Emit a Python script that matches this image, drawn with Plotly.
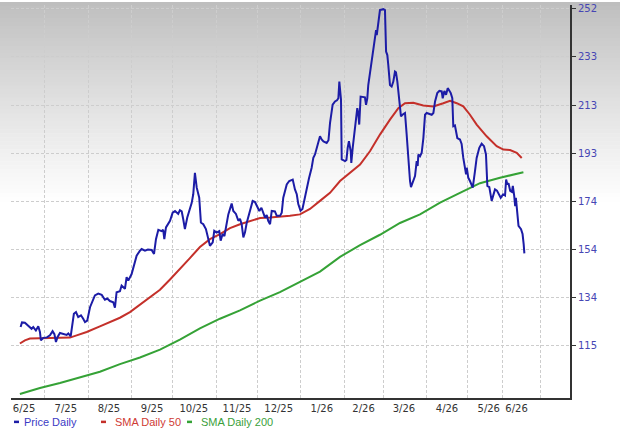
import numpy as np
import pandas as pd
import plotly.graph_objects as go

# ---------------- data ----------------
ORIGIN = pd.Timestamp("2025-07-01")  # day offsets below are counted from this date

price_days = [-17.5, -16.5, -14.4, -12.0, -9.6, -8.4, -6.5, -4.8, -3.6, -2.9, -1.2, 1.4, 3.6, 5.5, 6.8,
              7.9, 9.1, 10.8, 13.2, 15.6, 16.8, 18.5, 20.8, 22.3, 23.9, 25.9, 27.5, 28.8, 30.4, 32.4,
              35.9, 38.3, 40.8, 43.1, 44.8, 46.7, 49.1, 50.3, 51.5, 53.9, 55.1, 57.5, 58.7, 59.9, 62.3,
              63.5, 65.9, 68.3, 69.5, 71.9, 74.0, 76.7, 78.4, 79.8, 81.5, 83.9, 85.0, 85.8, 87.0, 89.9,
              91.8, 93.5, 95.8, 97.0, 98.3, 99.4, 100.6, 102.3, 104.2, 105.5, 106.6, 107.8, 109.1, 110.9,
              112.1, 113.8, 115.7, 117.4, 118.6, 120.6, 121.7, 123.4, 125.3, 126.3, 127.7, 129.0, 130.6,
              131.8, 134.2, 135.4, 137.3, 139.0, 140.2, 141.4, 142.6, 143.8, 145.0, 147.4, 149.3, 151.0,
              152.2, 154.1, 155.6, 156.9, 158.2, 159.4, 160.5, 161.8, 163.0, 165.3, 166.6, 169.0, 170.2,
              171.3, 173.8, 175.6, 178.1, 179.7, 181.0, 182.1, 183.7, 185.1, 186.6, 188.1, 189.8, 191.7,
              192.9, 194.1, 196.5, 197.7, 198.9, 200.2, 202.5, 203.8, 204.9, 205.6, 206.8, 208.5, 209.9,
              210.9, 211.6, 212.8, 213.3, 215.7, 216.7, 217.6, 218.5, 219.8, 220.2, 221.2, 222.9, 223.6,
              224.5, 225.2, 225.9, 226.9, 228.8, 230.0, 230.8, 231.7, 232.4, 234.1, 236.0, 237.2, 238.0,
              238.5, 239.2, 240.3, 240.8, 243.2, 244.4, 245.2, 246.1, 246.8, 248.0, 249.2, 250.4, 251.6,
              252.3, 253.3, 254.5, 255.2, 255.9, 257.2, 258.8, 260.0, 261.2, 262.4, 263.1, 264.8, 266.0,
              267.2, 267.9, 268.4, 269.6, 270.8, 272.0, 273.2, 274.4, 278.0, 279.2, 280.4, 282.0, 283.5,
              285.2, 285.9, 287.1, 288.3, 289.5, 290.4, 291.7, 292.8, 293.5, 294.7, 295.4, 296.4, 298.3,
              299.5, 300.7, 301.9, 302.7, 303.2, 304.3, 305.5, 307.5, 309.1, 310.3, 312.2, 313.9, 315.6,
              317.0, 318.0, 319.4, 321.1, 322.3, 323.5, 324.9, 326.6, 327.6, 329.3, 330.7, 331.5, 332.4,
              333.2, 334.4, 335.6, 336.3, 337.3, 338.0, 338.5, 339.3, 340.4, 342.2, 343.3, 344.1, 344.6]

price_values = [122.4, 124.3, 124.2, 123.0, 121.7, 122.4, 121.0, 122.7, 120.4, 117.0, 118.0, 118.2, 119.0, 120.7, 119.5,
                116.3, 118.4, 120.0, 119.5, 119.2, 119.8, 118.6, 127.8, 128.5, 126.5, 127.2, 125.8, 124.4, 125.0, 130.5,
                135.3, 136.0, 135.5, 133.5, 134.0, 133.0, 132.5, 130.3, 136.6, 137.0, 139.3, 138.0, 142.7, 141.3, 144.0,
                146.7, 151.5, 153.5, 154.2, 153.5, 154.0, 153.8, 152.2, 158.2, 162.0, 161.5, 162.0, 158.2, 163.0, 165.7,
                169.0, 169.7, 168.5, 170.0, 169.5, 166.3, 162.3, 167.0, 171.0, 173.0, 176.5, 185.2, 179.2, 175.1,
                165.0, 164.3, 162.3, 158.2, 155.5, 156.9, 161.6, 160.9, 161.5, 157.6, 160.3, 159.5, 165.7,
                168.3, 172.7, 169.7, 168.5, 165.7, 166.5, 164.3, 158.9, 161.0, 164.8, 169.7, 173.8, 173.3,
                171.7, 169.7, 171.0, 169.2, 167.0, 168.0, 165.7, 164.3, 169.7, 169.5, 167.7, 167.7, 169.0,
                175.1, 180.5, 181.9, 182.5, 178.5, 176.5, 172.5, 169.8, 170.5, 175.0, 179.2, 183.0, 187.3,
                191.3, 192.7, 198.1, 200.1, 198.8, 198.0, 197.4, 198.5, 205.5, 208.2, 213.0, 214.3, 214.8,
                215.6, 222.4, 215.0, 190.7, 190.0, 190.5, 195.4, 198.1, 194.0, 189.3, 195.4, 203.5, 208.9,
                211.6, 209.5, 204.9, 216.3, 216.3, 216.0, 212.9, 215.6, 221.0, 227.8, 234.6, 241.3, 243.4,
                241.3, 244.7, 249.4, 251.5, 251.9, 251.5, 234.6, 233.2, 229.1, 221.0, 220.4, 222.4, 226.5,
                226.2, 222.4, 214.3, 210.2, 208.2, 209.0, 209.6, 200.8, 190.0, 181.9, 179.4, 181.9, 183.9,
                190.0, 188.0, 192.7, 192.0, 193.4, 199.4, 208.9, 209.6, 208.9, 209.6, 214.3, 217.7, 218.6,
                218.4, 215.6, 218.6, 217.0, 219.7, 219.0, 217.7, 215.6, 204.2, 204.5, 202.8, 199.4, 198.8,
                197.0, 191.3, 187.3, 184.6, 187.3, 183.2, 181.9, 179.2, 185.9, 191.3, 195.4, 197.1, 196.1,
                192.7, 179.9, 179.4, 173.8, 176.5, 178.5, 178.0, 176.5, 175.1, 176.5, 176.0, 182.5, 180.5,
                181.0, 177.9, 177.5, 179.9, 175.8, 171.7, 175.0, 171.0, 163.6, 162.3, 160.3, 156.2, 152.4]

sma50_days = [-18.0, -14.4, -10.8, -3.6, 3.6, 13.2, 18.0, 22.8, 30.0, 39.5, 46.7, 53.9, 61.1, 68.3, 75.5,
              82.7, 89.9, 97.0, 104.2, 111.4, 118.6, 125.8, 133.0, 140.2, 147.4, 154.6, 161.8, 168.9,
              176.1, 183.3, 190.5, 197.7, 204.9, 212.1, 219.3, 226.5, 233.6, 240.8, 248.0, 254.0, 258.8,
              264.8, 271.9, 279.2, 286.3, 291.2, 296.0, 300.7, 305.5, 310.3, 317.5, 324.7, 329.5, 334.3,
              339.1, 342.7]
sma50_values = [115.7, 117.0, 117.7, 117.8, 117.8, 117.9, 118.1, 119.0, 120.4, 122.7, 124.5, 126.2, 128.5,
                131.5, 134.7, 137.6, 141.8, 146.0, 150.5, 155.0, 158.2, 160.3, 162.7, 164.3, 165.7, 166.8,
                167.0, 167.3, 167.7, 168.3, 170.5, 173.8, 177.1, 181.9, 185.2, 188.6, 194.0, 200.8, 206.9,
                211.6, 213.6, 213.8, 212.7, 212.3, 213.6, 214.6, 213.6, 212.3, 208.9, 204.9, 200.1, 196.1,
                194.7, 194.5, 193.4, 191.3]

sma200_days = [-18.0, -3.6, 10.8, 25.2, 39.5, 53.9, 68.3, 82.7, 97.0, 111.4, 125.8, 140.2, 154.6, 168.9,
               183.3, 197.7, 212.1, 226.5, 240.8, 255.2, 269.6, 284.0, 298.3, 312.7, 327.1, 341.5, 343.9]
sma200_values = [95.1, 97.6, 99.6, 101.8, 104.2, 107.3, 110.0, 113.2, 117.3, 121.9, 125.8, 129.2, 133.2,
                 136.6, 140.7, 145.0, 151.0, 155.8, 160.0, 164.8, 168.3, 173.1, 177.1, 181.0, 183.2, 185.3,
                 185.5]

x_tick_labels = ["6/25", "7/25", "8/25", "9/25", "10/25", "11/25", "12/25",
                 "1/26", "2/26", "3/26", "4/26", "5/26", "6/26"]
x_tick_dates = ["2025-06-16", "2025-07-16", "2025-08-16", "2025-09-16", "2025-10-16", "2025-11-16",
                "2025-12-16", "2026-01-16", "2026-02-15", "2026-03-16", "2026-04-16", "2026-05-16",
                "2026-06-05"]
x_grid_dates = ["2025-07-01", "2025-08-01", "2025-09-01", "2025-10-01", "2025-11-01", "2025-12-01",
                "2026-01-01", "2026-02-01", "2026-03-01", "2026-04-01", "2026-05-01", "2026-05-26",
                "2026-06-22"]
y_tick_labels = ["115", "134", "154", "174", "193", "213", "233", "252"]

series_names = ["Price Daily", "SMA Daily 50", "SMA Daily 200"]

# ---------------- styling ----------------
BLUE = "#1c1ca6"
RED = "#c4302a"
GREEN = "#35a236"
W, H = 620, 432
L, R, T, B = 11, 50, 3, 34
PW, PH = W - L - R, H - T - B


def to_dates(days):
    return ORIGIN + pd.to_timedelta(np.asarray(days, dtype=float), unit="D")


def px(x):
    return (x - L) / PW


def py(y):
    return (H - B - y) / PH


fig = go.Figure()
fig.add_trace(go.Scatter(x=to_dates(sma200_days), y=sma200_values, mode="lines", name=series_names[2],
                         line=dict(color=GREEN, width=2), showlegend=False))
fig.add_trace(go.Scatter(x=to_dates(sma50_days), y=sma50_values, mode="lines", name=series_names[1],
                         line=dict(color=RED, width=2), showlegend=False))
fig.add_trace(go.Scatter(x=to_dates(price_days), y=price_values, mode="lines", name=series_names[0],
                         line=dict(color=BLUE, width=2), showlegend=False))

# background gradient (grey at top fading to white)
shapes = []
n_bands = 50
band_h = 200 / n_bands
for i in range(n_bands):
    t = i / n_bands
    c = int(round(190 + 65 * t ** 0.9))
    shapes.append(dict(type="rect", xref="paper", yref="paper", x0=px(0), x1=px(W),
                       y0=py(i * band_h + band_h + 0.5), y1=py(i * band_h),
                       fillcolor=f"rgb({c},{c},{c})", line=dict(width=0), layer="below"))

# legend (drawn as text with short colour dashes)
legend_items = [(series_names[0], BLUE, "#3b3bc4", 14, 22),
                (series_names[1], RED, "#cf3b35", 101, 113),
                (series_names[2], GREEN, "#3b9f3b", 187, 199)]
annotations = []
for name, lc, tc, dx, tx in legend_items:
    shapes.append(dict(type="line", xref="paper", yref="paper", x0=px(dx), x1=px(dx + 5),
                       y0=py(422), y1=py(422), line=dict(color=lc, width=2.5)))
    annotations.append(dict(text=name, xref="paper", yref="paper", x=px(tx), y=py(422.5),
                            xanchor="left", yanchor="middle", showarrow=False,
                            font=dict(family="Liberation Sans, Arial", size=11, color=tc)))

x_start = ORIGIN + pd.Timedelta(days=-24.4)
x_end = ORIGIN + pd.Timedelta(days=377.4)

fig.update_layout(
    width=W, height=H,
    margin=dict(l=L, r=R, t=T, b=B, pad=0),
    paper_bgcolor="white",
    plot_bgcolor="rgba(0,0,0,0)",
    shapes=shapes,
    annotations=annotations,
    showlegend=False,
    xaxis=dict(
        type="date", range=[x_start, x_end],
        tickmode="array", tickvals=x_tick_dates, ticktext=x_tick_labels,
        showgrid=False, ticks="", zeroline=False,
        showline=True, linecolor="#333333", linewidth=2,
        tickfont=dict(family="DejaVu Sans, Verdana", size=10, color="#333333"),
        minor=dict(tickmode="array", tickvals=x_grid_dates, showgrid=True,
                   gridcolor="#cdcdcd", griddash="3px,2px", gridwidth=1, ticks=""),
    ),
    yaxis=dict(
        range=[93.5, 253.6], side="right",
        tickmode="array", tickvals=np.linspace(115, 252, 8), ticktext=y_tick_labels,
        showgrid=True, gridcolor="#cdcdcd", griddash="3px,2px", gridwidth=1,
        ticks="outside", ticklen=4, tickcolor="#333333", tickwidth=1,
        showline=True, linecolor="#333333", linewidth=2, zeroline=False,
        tickfont=dict(family="DejaVu Sans, Verdana", size=10, color="#4646b4"),
    ),
)

fig.write_html("out.html")
